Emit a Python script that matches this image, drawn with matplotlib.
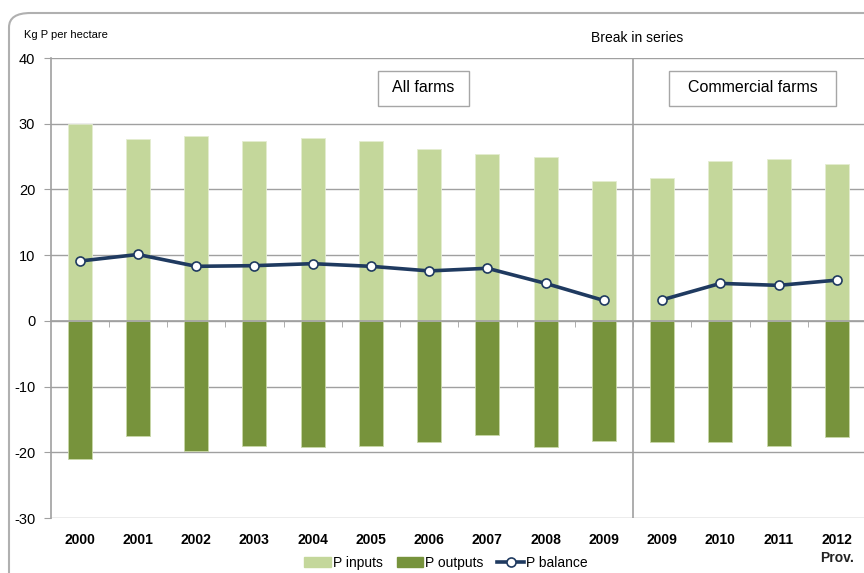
import numpy as np
import matplotlib
matplotlib.use('Agg')
import matplotlib.pyplot as plt
from matplotlib.patches import Rectangle, FancyBboxPatch, Patch
from matplotlib.lines import Line2D

plt.rcParams['font.family'] = ['Liberation Sans', 'DejaVu Sans']
plt.rcParams['axes.unicode_minus'] = False

years = ['2000', '2001', '2002', '2003', '2004', '2005', '2006',
         '2007', '2008', '2009', '2009', '2010', '2011', '2012']
p_inputs = [30.0, 27.7, 28.1, 27.4, 27.8, 27.4, 26.1,
            25.4, 24.9, 21.3, 21.8, 24.3, 24.6, 23.9]
p_outputs = [-21.0, -17.5, -19.8, -19.1, -19.2, -19.1, -18.5,
             -17.4, -19.2, -18.3, -18.5, -18.5, -19.1, -17.6]
p_balance = [9.1, 10.1, 8.3, 8.4, 8.7, 8.3, 7.6,
             8.0, 5.7, 3.1, 3.2, 5.7, 5.4, 6.2]
n_all_farms = 10  # first 10 points are "All farms", rest "Commercial farms"

light_green = '#c4d79b'
dark_green = '#77933c'
navy = '#1f3a60'
grid_grey = '#a0a0a0'

fig = plt.figure(figsize=(8.64, 5.73), dpi=100)
W, H = 864, 573

# outer chart border with rounded corner
fig.add_artist(FancyBboxPatch((9 / W, -0.1), 1.2, (H - 13) / H + 0.1,
                              boxstyle='round,pad=0,rounding_size=0.025',
                              transform=fig.transFigure, fill=False,
                              edgecolor='#b0b0b0', linewidth=1.5))

ax = fig.add_axes([50.5 / W, 55 / H, 815.5 / W, 460 / H])
x = np.arange(len(years))

ax.bar(x, p_inputs, width=0.41, color=light_green, edgecolor='#e4edd0',
       linewidth=0.6, zorder=2)
ax.bar(x, p_outputs, width=0.41, color=dark_green, edgecolor='#c9d8a8',
       linewidth=0.6, zorder=2)

line_kw = dict(color=navy, linewidth=2.6, marker='o', markersize=6.5,
               markerfacecolor='white', markeredgecolor=navy,
               markeredgewidth=1.2, zorder=4)
ax.plot(x[:n_all_farms], p_balance[:n_all_farms], **line_kw)
ax.plot(x[n_all_farms:], p_balance[n_all_farms:], **line_kw)

ax.set_xlim(-0.5, len(years) - 0.5)
ax.set_ylim(-30, 40)
ax.set_yticks(range(-30, 41, 10))
ax.yaxis.grid(True, color=grid_grey, linewidth=1)
ax.set_axisbelow(True)

# break in series
ax.axvline(n_all_farms - 0.5, color=grid_grey, linewidth=1.2, zorder=1)

for side in ['top', 'right']:
    ax.spines[side].set_visible(False)
ax.spines['left'].set_color(grid_grey)
ax.spines['left'].set_linewidth(1.2)
ax.spines['bottom'].set_position(('data', 0))
ax.spines['bottom'].set_color(grid_grey)
ax.spines['bottom'].set_linewidth(1.2)

ax.tick_params(axis='y', length=5, color=grid_grey, labelsize=10.5, pad=6)
ax.set_xticks(x[:-1] + 0.5, minor=True)
ax.set_xticks([])
ax.tick_params(axis='x', which='minor', length=4, color=grid_grey,
               direction='out')

# year labels along the bottom of the plot area
sec = ax.secondary_xaxis(0)
sec.set_xticks(x)
sec.set_xticklabels(years, fontweight='bold', fontsize=10)
sec.tick_params(length=0, pad=11)
sec.spines['bottom'].set_visible(False)

ax.text(x[-1], -0.072, 'Prov.', transform=ax.get_xaxis_transform(),
        ha='center', va='top', fontsize=10, fontweight='bold', color='#222222')

fig.text(24 / W, 1 - 35 / H, 'Kg P per hectare', fontsize=8, va='center')
fig.text(637 / W, 1 - 38 / H, 'Break in series', fontsize=10,
         ha='center', va='center')

# group label boxes
for label, x0, x1 in [('All farms', 378, 469), ('Commercial farms', 669, 836)]:
    fig.add_artist(Rectangle((x0 / W, 1 - 106 / H), (x1 - x0) / W, 35 / H,
                             transform=fig.transFigure, fill=True,
                             facecolor='white', edgecolor='#a6a6a6',
                             linewidth=1))
    fig.text((x0 + x1) / 2 / W, 1 - 88 / H, label, fontsize=11.5,
             ha='center', va='center')

handles = [Patch(color=light_green, label='P inputs'),
           Patch(color=dark_green, label='P outputs'),
           Line2D([], [], label='P balance', **line_kw)]
fig.legend(handles=handles, loc='center', ncol=3,
           bbox_to_anchor=(446 / W, 1 - 563 / H), frameon=False,
           fontsize=10, handlelength=1.9, handleheight=0.7,
           handletextpad=0.15, columnspacing=1.0, borderaxespad=0)

fig.savefig('out.png', dpi=100)
